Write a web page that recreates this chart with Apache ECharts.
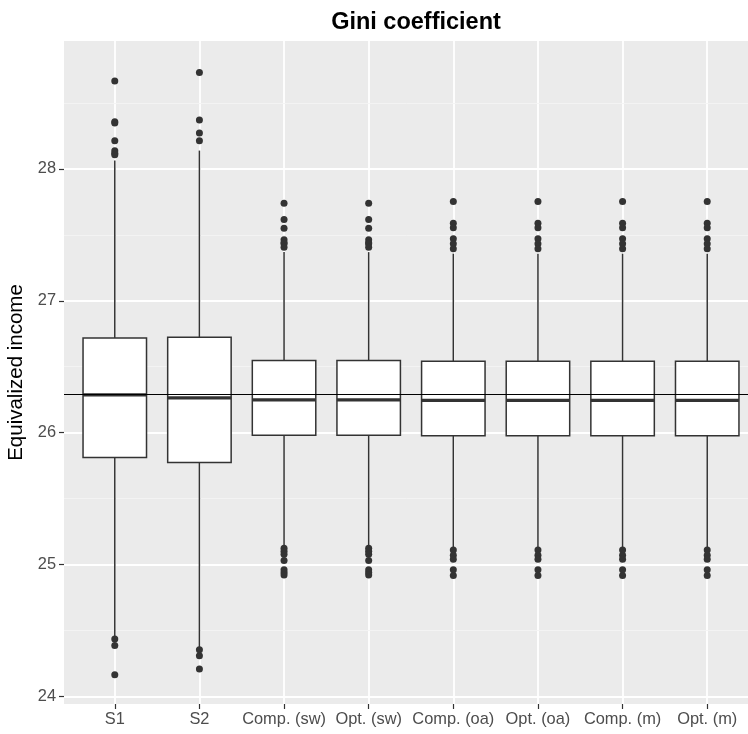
<!DOCTYPE html>
<html>
<head>
<meta charset="utf-8">
<script src="https://cdn.jsdelivr.net/npm/echarts@6/dist/echarts.min.js"></script>
<style>html,body{margin:0;padding:0;background:#fff}#chart{width:748px;height:734px}</style>
</head>
<body>
<div id="chart"></div>
<script>
const categories = ['S1', 'S2', 'Comp. (sw)', 'Opt. (sw)', 'Comp. (oa)', 'Opt. (oa)', 'Comp. (m)', 'Opt. (m)'];
const whiskerLow  = [24.45, 24.37, 25.14, 25.14, 25.13, 25.13, 25.13, 25.13];
const q1          = [25.812, 25.774, 25.981, 25.981, 25.976, 25.976, 25.976, 25.976];
const median      = [26.286, 26.263, 26.248, 26.248, 26.244, 26.244, 26.244, 26.244];
const q3          = [26.718, 26.723, 26.547, 26.547, 26.541, 26.541, 26.541, 26.541];
const whiskerHigh = [28.063, 28.139, 27.369, 27.369, 27.357, 27.357, 27.357, 27.357];
const outliersS1 = [28.666, 28.358, 28.348, 28.214, 28.138, 28.118, 28.108, 24.434, 24.386, 24.164];
const outliersS2 = [28.731, 28.371, 28.272, 28.214, 24.354, 24.308, 24.207];
const outliersSw = [27.740, 27.616, 27.550, 27.462, 27.440, 27.432, 27.406, 25.123, 25.100, 25.078, 25.030, 24.960, 24.940, 24.920];
const outliersOa = [27.752, 27.588, 27.553, 27.470, 27.432, 27.394, 25.110, 25.070, 25.040, 24.960, 24.916];
const outliersM  = [27.752, 27.588, 27.553, 27.470, 27.432, 27.394, 25.110, 25.070, 25.040, 24.960, 24.916];
const outlierLists = [outliersS1, outliersS2, outliersSw, outliersSw, outliersOa, outliersOa, outliersM, outliersM];
const referenceLine = 26.29;
const yMajorTicks = [24, 25, 26, 27, 28];
const yMinorTicks = [24.5, 25.5, 26.5, 27.5, 28.5];
const xTickPositions = [0, 1, 2, 3, 4, 5, 6, 7];

const boxData = categories.map((c, i) => [i, whiskerLow[i], q1[i], median[i], q3[i], whiskerHigh[i]]);
const outlierData = [];
outlierLists.forEach((arr, i) => arr.forEach(v => outlierData.push([i, v])));

const dark = '#333333';
function renderBox(params, api) {
  const x = api.value(0);
  const lo = api.coord([x, api.value(1)]);
  const b1 = api.coord([x, api.value(2)]);
  const md = api.coord([x, api.value(3)]);
  const b3 = api.coord([x, api.value(4)]);
  const hi = api.coord([x, api.value(5)]);
  const hw = api.size([0.75, 0])[0] / 2;
  const cx = lo[0];
  return {
    type: 'group',
    children: [
      { type: 'line', shape: { x1: cx, y1: lo[1], x2: cx, y2: b1[1] }, style: { stroke: dark, lineWidth: 1.5 } },
      { type: 'line', shape: { x1: cx, y1: b3[1], x2: cx, y2: hi[1] }, style: { stroke: dark, lineWidth: 1.5 } },
      { type: 'rect', shape: { x: cx - hw, y: b3[1], width: 2 * hw, height: b1[1] - b3[1] }, style: { fill: '#ffffff', stroke: dark, lineWidth: 1.5 } },
      { type: 'line', shape: { x1: cx - hw, y1: md[1], x2: cx + hw, y2: md[1] }, style: { stroke: dark, lineWidth: 3.2 } }
    ]
  };
}

const chart = echarts.init(document.getElementById('chart'), null, { renderer: 'canvas' });
const yCommon = { type: 'value', min: 23.942, max: 28.97, position: 'left' };
chart.setOption({
  animation: false,
  backgroundColor: '#ffffff',
  title: {
    text: 'Gini coefficient', left: 411, top: 6, textAlign: 'center',
    textStyle: { fontFamily: 'Liberation Sans', fontWeight: 'bold', fontSize: 23.5, color: '#000' }
  },
  grid: { left: 64, right: -10, top: 41, bottom: 30, show: true, backgroundColor: '#EBEBEB', borderWidth: 0, outerBoundsMode: 'none', containLabel: false },
  xAxis: {
    type: 'value', min: -0.6, max: 7.6, position: 'bottom',
    axisLine: { show: false, onZero: false },
    axisTick: { show: true, customValues: xTickPositions, length: 5, lineStyle: { color: dark, width: 1.2 } },
    axisLabel: {
      customValues: xTickPositions, margin: 7, color: '#4D4D4D', fontSize: 16.4, fontFamily: 'Liberation Sans',
      formatter: v => categories[Math.round(v)]
    },
    splitLine: { show: true, lineStyle: { color: '#ffffff', width: 1.8 } }
  },
  yAxis: [
    Object.assign({}, yCommon, {
      name: 'Equivalized income', nameLocation: 'middle', nameGap: 33,
      nameTextStyle: { fontFamily: 'Liberation Sans', fontSize: 20.5, color: '#000' },
      axisLine: { show: false, onZero: false },
      axisTick: { show: true, customValues: yMajorTicks, length: 5, lineStyle: { color: dark, width: 1.2 } },
      axisLabel: { customValues: yMajorTicks, margin: 8, color: '#4D4D4D', fontSize: 16.4, fontFamily: 'Liberation Sans' },
      splitLine: { show: true, lineStyle: { color: '#ffffff', width: 1.8 } },
      z: 2
    }),
    Object.assign({}, yCommon, {
      axisLine: { show: false, onZero: false },
      axisTick: { show: false, customValues: yMinorTicks },
      axisLabel: { show: false, customValues: yMinorTicks },
      splitLine: { show: true, lineStyle: { color: '#F4F4F4', width: 0.9 } },
      z: 1
    })
  ],
  series: [
    {
      type: 'custom', name: 'box', renderItem: renderBox, data: boxData,
      encode: { x: 0, y: [1, 2, 3, 4, 5] }, z: 3
    },
    {
      type: 'scatter', name: 'outliers', data: outlierData, symbol: 'circle', symbolSize: 7,
      itemStyle: { color: dark, opacity: 1 }, z: 4,
      markLine: {
        silent: true, symbol: ['none', 'none'], label: { show: false },
        lineStyle: { color: '#000000', width: 1.2, type: 'solid' },
        data: [{ yAxis: referenceLine }], z: 5
      }
    }
  ]
});
</script>
</body>
</html>
